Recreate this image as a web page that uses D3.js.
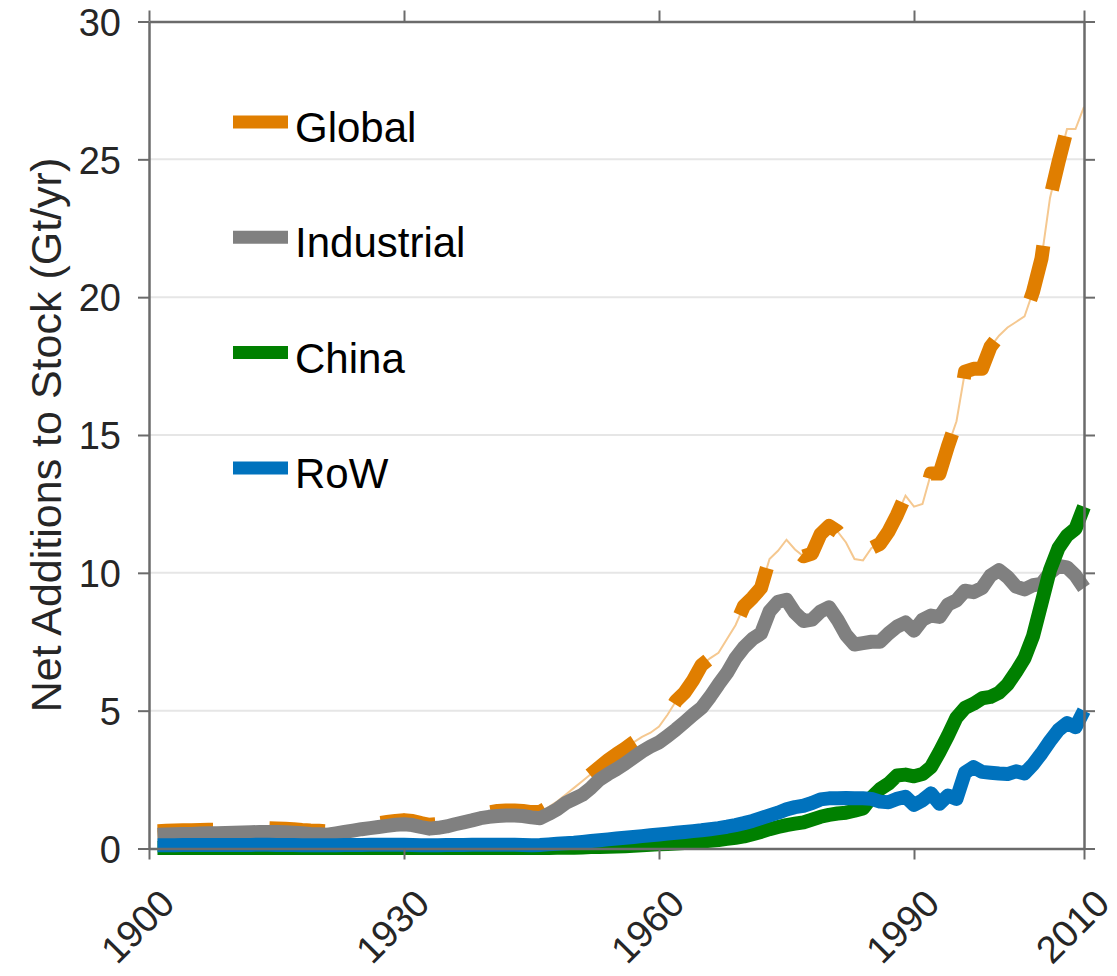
<!DOCTYPE html>
<html>
<head>
<meta charset="utf-8">
<script src="https://cdn.jsdelivr.net/npm/d3@7/dist/d3.min.js"></script>
<style>
  body { margin: 0; background: #fff; }
  text { font-family: "Liberation Sans", Arial, Helvetica, sans-serif; }
</style>
</head>
<body>
<div id="chart"></div>
<script>
// years on the x axis
var years = d3.range(1901, 2011);

// net additions to stock, Gt/yr
var globalVals = [
  0.63, 0.64, 0.65, 0.66, 0.66, 0.67, 0.68, 0.68, 0.69, 0.70,
  0.71, 0.72, 0.74, 0.74, 0.73, 0.72, 0.70, 0.67, 0.65, 0.64,
  0.62, 0.67, 0.73, 0.78, 0.83, 0.88, 0.92, 0.96, 1.00, 1.03,
  1.00, 0.92, 0.86, 0.89, 0.94, 1.02, 1.10, 1.17, 1.25, 1.31,
  1.36, 1.38, 1.38, 1.36, 1.32, 1.32, 1.50, 1.70, 1.95, 2.20,
  2.45, 2.70, 2.95, 3.20, 3.42, 3.62, 3.85, 4.05, 4.20, 4.42,
  4.85, 5.35, 5.65, 6.10, 6.65, 6.90, 7.10, 7.60, 8.10, 8.80,
  9.10, 9.45, 10.50, 10.80, 11.20, 10.85, 10.60, 10.70, 11.40, 11.70,
  11.50, 11.10, 10.50, 10.45, 10.90, 11.05, 11.50, 12.10, 12.80, 12.40,
  12.50, 13.60, 13.60, 14.60, 15.50, 17.30, 17.40, 17.40, 18.20, 18.60,
  18.90, 19.10, 19.30, 20.20, 21.40, 23.60, 24.90, 26.10, 26.10, 26.90
];

var industrialVals = [
  0.50, 0.51, 0.52, 0.53, 0.53, 0.54, 0.55, 0.55, 0.56, 0.57,
  0.58, 0.59, 0.60, 0.60, 0.60, 0.59, 0.57, 0.55, 0.53, 0.52,
  0.50, 0.55, 0.60, 0.65, 0.70, 0.74, 0.78, 0.82, 0.86, 0.88,
  0.85, 0.78, 0.72, 0.75, 0.80, 0.88, 0.95, 1.02, 1.10, 1.15,
  1.18, 1.20, 1.20, 1.18, 1.13, 1.10, 1.25, 1.42, 1.65, 1.80,
  1.95, 2.20, 2.50, 2.70, 2.88, 3.08, 3.30, 3.52, 3.70, 3.85,
  4.08, 4.32, 4.58, 4.85, 5.10, 5.50, 5.95, 6.37, 6.90, 7.30,
  7.60, 7.80, 8.60, 8.95, 9.02, 8.55, 8.25, 8.30, 8.60, 8.75,
  8.30, 7.75, 7.40, 7.45, 7.50, 7.50, 7.80, 8.05, 8.20, 7.90,
  8.30, 8.45, 8.40, 8.85, 9.00, 9.35, 9.30, 9.45, 9.90, 10.10,
  9.85, 9.50, 9.40, 9.55, 9.60, 10.00, 10.25, 10.20, 9.90, 9.45
];

var chinaVals = [
  0.02, 0.02, 0.02, 0.02, 0.02, 0.02, 0.02, 0.02, 0.02, 0.02,
  0.02, 0.02, 0.02, 0.02, 0.02, 0.02, 0.02, 0.02, 0.02, 0.02,
  0.02, 0.02, 0.02, 0.02, 0.02, 0.02, 0.02, 0.02, 0.02, 0.02,
  0.02, 0.02, 0.02, 0.02, 0.02, 0.02, 0.02, 0.02, 0.02, 0.02,
  0.02, 0.02, 0.02, 0.02, 0.02, 0.02, 0.02, 0.03, 0.03, 0.03,
  0.04, 0.05, 0.05, 0.06, 0.07, 0.08, 0.10, 0.12, 0.14, 0.15,
  0.16, 0.18, 0.20, 0.22, 0.25, 0.28, 0.31, 0.35, 0.39, 0.44,
  0.52, 0.60, 0.70, 0.78, 0.85, 0.90, 0.95, 1.05, 1.15, 1.22,
  1.27, 1.30, 1.37, 1.45, 1.85, 2.15, 2.35, 2.65, 2.68, 2.62,
  2.70, 2.95, 3.50, 4.10, 4.75, 5.10, 5.25, 5.45, 5.50, 5.65,
  5.95, 6.40, 6.90, 7.70, 8.90, 10.10, 10.90, 11.35, 11.60, 12.40
];

var rowVals = [
  0.12, 0.12, 0.12, 0.13, 0.13, 0.13, 0.13, 0.13, 0.13, 0.13,
  0.13, 0.13, 0.14, 0.14, 0.13, 0.13, 0.13, 0.12, 0.12, 0.12,
  0.12, 0.12, 0.13, 0.13, 0.13, 0.14, 0.14, 0.14, 0.14, 0.14,
  0.13, 0.12, 0.12, 0.12, 0.13, 0.13, 0.13, 0.14, 0.14, 0.14,
  0.14, 0.14, 0.14, 0.13, 0.12, 0.13, 0.15, 0.17, 0.19, 0.21,
  0.24, 0.27, 0.30, 0.33, 0.36, 0.39, 0.42, 0.45, 0.48, 0.51,
  0.54, 0.57, 0.60, 0.63, 0.66, 0.70, 0.74, 0.79, 0.85, 0.92,
  1.00, 1.10, 1.20, 1.30, 1.42, 1.50, 1.55, 1.65, 1.78, 1.82,
  1.82, 1.83, 1.82, 1.82, 1.80, 1.70, 1.68, 1.80, 1.88, 1.58,
  1.75, 2.00, 1.62, 1.92, 1.80, 2.75, 2.95, 2.78, 2.75, 2.72,
  2.70, 2.80, 2.72, 3.05, 3.45, 3.90, 4.30, 4.55, 4.40, 5.00
];

var seriesNames = ['Global', 'Industrial', 'China', 'RoW'];
var seriesColors = ['#e07e00', '#808080', '#008000', '#0072bd'];
var xTicks = [1900, 1930, 1960, 1990, 2010];
var yTicks = [0, 5, 10, 15, 20, 25, 30];
var yLabel = 'Net Additions to Stock (Gt/yr)';

var W = 1117, H = 976;
var plotLeft = 149, plotRight = 1084, plotTop = 21.5, plotBottom = 848.5;

var svg = d3.select('#chart').append('svg')
  .attr('width', W)
  .attr('height', H);

var x = d3.scaleLinear().domain([1900, 2010]).range([plotLeft, plotRight]);
var y = d3.scaleLinear().domain([0, 30]).range([plotBottom, plotTop]);

// horizontal grid
svg.append('g')
  .selectAll('line')
  .data(yTicks.filter(function(d) { return d > 0 && d < 30; }))
  .enter().append('line')
  .attr('x1', plotLeft).attr('x2', plotRight)
  .attr('y1', function(d) { return y(d); })
  .attr('y2', function(d) { return y(d); })
  .attr('stroke', '#e6e6e6')
  .attr('stroke-width', 2);

var allSeries = [globalVals, industrialVals, chinaVals, rowVals];

var line = d3.line()
  .x(function(d, i) { return x(years[i]); })
  .y(function(d) { return y(d); });

// Global: faint thin line under the thick dashes
svg.append('path')
  .attr('d', line(globalVals))
  .attr('fill', 'none')
  .attr('stroke', '#f5c890')
  .attr('stroke-width', 2);

svg.append('path')
  .attr('d', line(globalVals))
  .attr('fill', 'none')
  .attr('stroke', seriesColors[0])
  .attr('stroke-width', 14)
  .attr('stroke-dasharray', '55.5,56.5')
  .attr('stroke-linejoin', 'round');

// other series, solid thick
for (var s = 1; s < allSeries.length; s++) {
  svg.append('path')
    .attr('d', line(allSeries[s]))
    .attr('fill', 'none')
    .attr('stroke', seriesColors[s])
    .attr('stroke-width', 14)
    .attr('stroke-linejoin', 'round');
}

// axes
var axisColor = '#6b6b6b';

var yAxis = svg.append('g')
  .attr('transform', 'translate(' + plotLeft + ',0)')
  .call(d3.axisLeft(y).tickValues(yTicks).tickSize(11).tickSizeOuter(0).tickPadding(17));
var yAxisR = svg.append('g')
  .attr('transform', 'translate(' + plotRight + ',0)')
  .call(d3.axisRight(y).tickValues(yTicks).tickSize(11).tickSizeOuter(0).tickFormat(''));
var xAxis = svg.append('g')
  .attr('transform', 'translate(0,' + plotBottom + ')')
  .call(d3.axisBottom(x).tickValues(xTicks).tickSize(11).tickSizeOuter(0).tickFormat(d3.format('d')));
var xAxisT = svg.append('g')
  .attr('transform', 'translate(0,' + plotTop + ')')
  .call(d3.axisTop(x).tickValues(xTicks).tickSize(11).tickSizeOuter(0).tickFormat(''));

[yAxis, yAxisR, xAxis, xAxisT].forEach(function(g) {
  g.select('.domain').attr('stroke', axisColor).attr('stroke-width', 2.5);
  g.selectAll('.tick line').attr('stroke', axisColor).attr('stroke-width', 2);
});

yAxis.selectAll('.tick text')
  .attr('fill', '#262626')
  .style('font-size', '38px')
  .attr('dy', '0.36em');

xAxis.selectAll('.tick text')
  .attr('fill', '#262626')
  .style('font-size', '38px')
  .attr('text-anchor', 'end')
  .attr('y', 0)
  .attr('dy', 0)
  .attr('transform', 'translate(18,48) rotate(-45)')
  .attr('dominant-baseline', 'central');

// y label
svg.append('text')
  .attr('transform', 'translate(46,' + ((plotTop + plotBottom) / 2) + ') rotate(-90)')
  .attr('text-anchor', 'middle')
  .attr('dy', '0.35em')
  .attr('fill', '#262626')
  .style('font-size', '43px')
  .text(yLabel);

// legend
var legend = svg.append('g')
  .selectAll('g')
  .data(seriesNames)
  .enter().append('g')
  .attr('transform', function(d, i) { return 'translate(233,' + (122 + i * 115.3) + ')'; });

legend.append('line')
  .attr('x1', 0).attr('x2', 55)
  .attr('y1', 0).attr('y2', 0)
  .attr('stroke', function(d, i) { return seriesColors[i]; })
  .attr('stroke-width', 13);

legend.append('text')
  .attr('x', 62)
  .attr('y', 20)
  .attr('fill', '#000')
  .style('font-size', '42px')
  .text(function(d) { return d; });
</script>
</body>
</html>
